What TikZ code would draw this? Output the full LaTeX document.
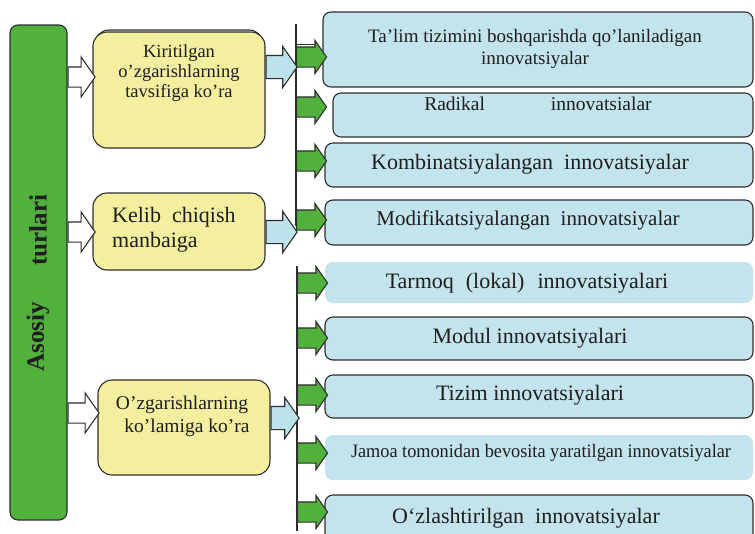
\documentclass[tikz,border=0pt]{standalone}
\usepackage{fontspec}
\setmainfont{Liberation Serif}
\usetikzlibrary{shapes.arrows}
\definecolor{barG}{HTML}{52B03C}
\definecolor{yel}{HTML}{F4EF9F}
\definecolor{blu}{HTML}{C3E4EC}
\definecolor{arrB}{HTML}{BCE2EC}
\definecolor{edge}{HTML}{2E2E2E}
\definecolor{txt}{HTML}{1E1E1E}
\tikzset{
  bluebox/.style={rectangle, rounded corners=8pt, fill=blu, draw=edge, line width=1.1pt, inner sep=0pt},
  bluenb/.style={bluebox, draw=none},
  btext/.style={text=txt, inner sep=0pt, font=\fontsize{22}{24}\selectfont},
  yelbox/.style={rectangle, rounded corners=14pt, fill=yel, draw=edge, line width=1.1pt, inner sep=0pt},
  ytext/.style={text=txt, align=center, inner sep=0pt},
  blockarr/.style={single arrow, single arrow tip angle=110, inner xsep=0pt, text height=0pt, text depth=0pt, text width=0pt, draw=edge, line width=1.1pt, anchor=tail},
  garrow/.style={blockarr, fill=barG, inner ysep=9.5pt, single arrow head extend=6.5pt, minimum height=30pt},
  barrow/.style={blockarr, fill=arrB, inner ysep=11pt, single arrow head extend=9pt, minimum height=31pt},
  warrow/.style={blockarr, fill=white, inner ysep=9.5pt, single arrow head extend=10pt, minimum height=28pt},
  vline/.style={draw=edge, line width=1.4pt}
}
\begin{document}
\begin{tikzpicture}[x=1pt,y=-1pt]
\clip (0,0) rectangle (755,533);
\fill[white] (0,0) rectangle (755,533);

% green bar
\node[rectangle, rounded corners=8pt, fill=barG, draw=edge, line width=1.1pt, minimum width=57pt, minimum height=495pt] (G) at (38.5,272.5) {};
\node[rotate=90, text=txt, font=\bfseries\fontsize{25}{28}\selectfont, inner sep=0pt] (Gt1) at (38,230) {turlari};
\node[rotate=90, text=txt, font=\bfseries\fontsize{25}{28}\selectfont, inner sep=0pt] (Gt2) at (38,337) {Asosiy};

% yellow boxes
\node[yelbox, fill=none, minimum width=168pt, minimum height=116pt] (Y1b) at (179,88) {};
\node[yelbox, minimum width=172pt, minimum height=116pt] (Y1) at (179,90) {};
\node[ytext, font=\fontsize{18.5}{20}\selectfont] (Y1t) at (179,73) {Kiritilgan\\o’zgarishlarning\\tavsifiga ko’ra};
\node[yelbox, minimum width=172pt, minimum height=77pt] (Y2) at (179,231.5) {};
\node[ytext, align=left, font=\fontsize{22}{25}\selectfont, anchor=west] (Y2t) at (112,230) {Kelib\ \ chiqish\\manbaiga};
\node[yelbox, minimum width=172pt, minimum height=95pt] (Y3) at (184,427.5) {};
\node[ytext, font=\fontsize{19.5}{23}\selectfont] (Y3t) at (182,416) {O’zgarishlarning\\\ \ ko’lamiga ko’ra};

% blue boxes
\node[bluebox, minimum width=430pt, minimum height=75pt] (B1) at (538,49.5) {};
\node[btext, align=center, font=\fontsize{19}{22}\selectfont] (B1t) at (535,49) {Ta’lim tizimini boshqarishda qo’laniladigan\\innovatsiyalar};
\node[bluebox, minimum width=420pt, minimum height=44pt] (B2) at (543,115) {};
\node[btext, font=\fontsize{19.5}{22}\selectfont] (B2t) at (538,104) {Radikal\hspace{66pt}innovatsialar};
\node[bluebox, minimum width=428pt, minimum height=44pt] (B3) at (539,165) {};
\node[btext] (B3t) at (530,164) {Kombinatsiyalangan\ \ innovatsiyalar};
\node[bluebox, minimum width=428pt, minimum height=45pt] (B4) at (539,222.5) {};
\node[btext, font=\fontsize{21}{24}\selectfont] (B4t) at (528,220) {Modifikatsiyalangan\ \ innovatsiyalar};
\node[bluenb, minimum width=428pt, minimum height=41pt] (B5) at (539,282.5) {};
\node[btext] (B5t) at (527,283) {Tarmoq\hspace{12pt}(lokal)\hspace{13pt}innovatsiyalari};
\node[bluebox, minimum width=428pt, minimum height=43pt] (B6) at (539,338.5) {};
\node[btext] (B6t) at (530,338) {Modul innovatsiyalari};
\node[bluebox, minimum width=428pt, minimum height=43pt] (B7) at (539,396.5) {};
\node[btext] (B7t) at (530,395) {Tizim innovatsiyalari};
\node[bluenb, minimum width=428pt, minimum height=45pt] (B8) at (539,457.5) {};
\node[btext, font=\fontsize{19}{22}\selectfont] (B8t) at (541,453) {\scalebox{0.96}[1]{Jamoa tomonidan bevosita yaratilgan innovatsiyalar}};
\node[bluebox, minimum width=428pt, minimum height=50pt] (B9) at (539,520) {};
\node[btext] (B9t) at (526,518) {O‘zlashtirilgan\ \ innovatsiyalar};

% vertical lines
\coordinate (L1a) at (296,24);
\coordinate (L1b) at (296,226);
\coordinate (L2a) at (297,266);
\coordinate (L2b) at (297,531);
\draw[vline] (L1a) -- (L1b);
\draw[vline] (L2a) -- (L2b);

% white arrows green bar -> yellow boxes
\node[warrow, minimum height=27pt] (w1) at (G.east |- 0,77) {};
\node[warrow, minimum height=27pt] (w2) at (G.east |- 0,232) {};
\node[warrow, minimum height=31pt] (w3) at (G.east |- 0,413) {};

% light blue arrows yellow -> lines
\node[barrow] (b1) at (Y1.east |- 0,67) {};
\node[barrow] (b2) at (Y2.east |- 0,232) {};
\node[barrow, minimum height=28pt] (b3) at (Y3.east |- 0,418) {};

% green arrows lines -> blue boxes
\draw[edge, line width=1pt] (L1a |- 0,44) -- ++(20,0);
\node[garrow] (g1) at (L1a |- 0,57) {};
\node[garrow] (g2) at (L1a |- 0,107) {};
\node[garrow] (g3) at (L1a |- 0,161) {};
\node[garrow] (g4) at (L1a |- 0,220) {};
\node[garrow] (g5) at (L2a |- 0,283) {};
\node[garrow] (g6) at (L2a |- 0,338) {};
\node[garrow] (g7) at (L2a |- 0,395) {};
\node[garrow] (g8) at (L2a |- 0,453) {};
\node[garrow] (g9) at (L2a |- 0,512) {};
\end{tikzpicture}
\end{document}
